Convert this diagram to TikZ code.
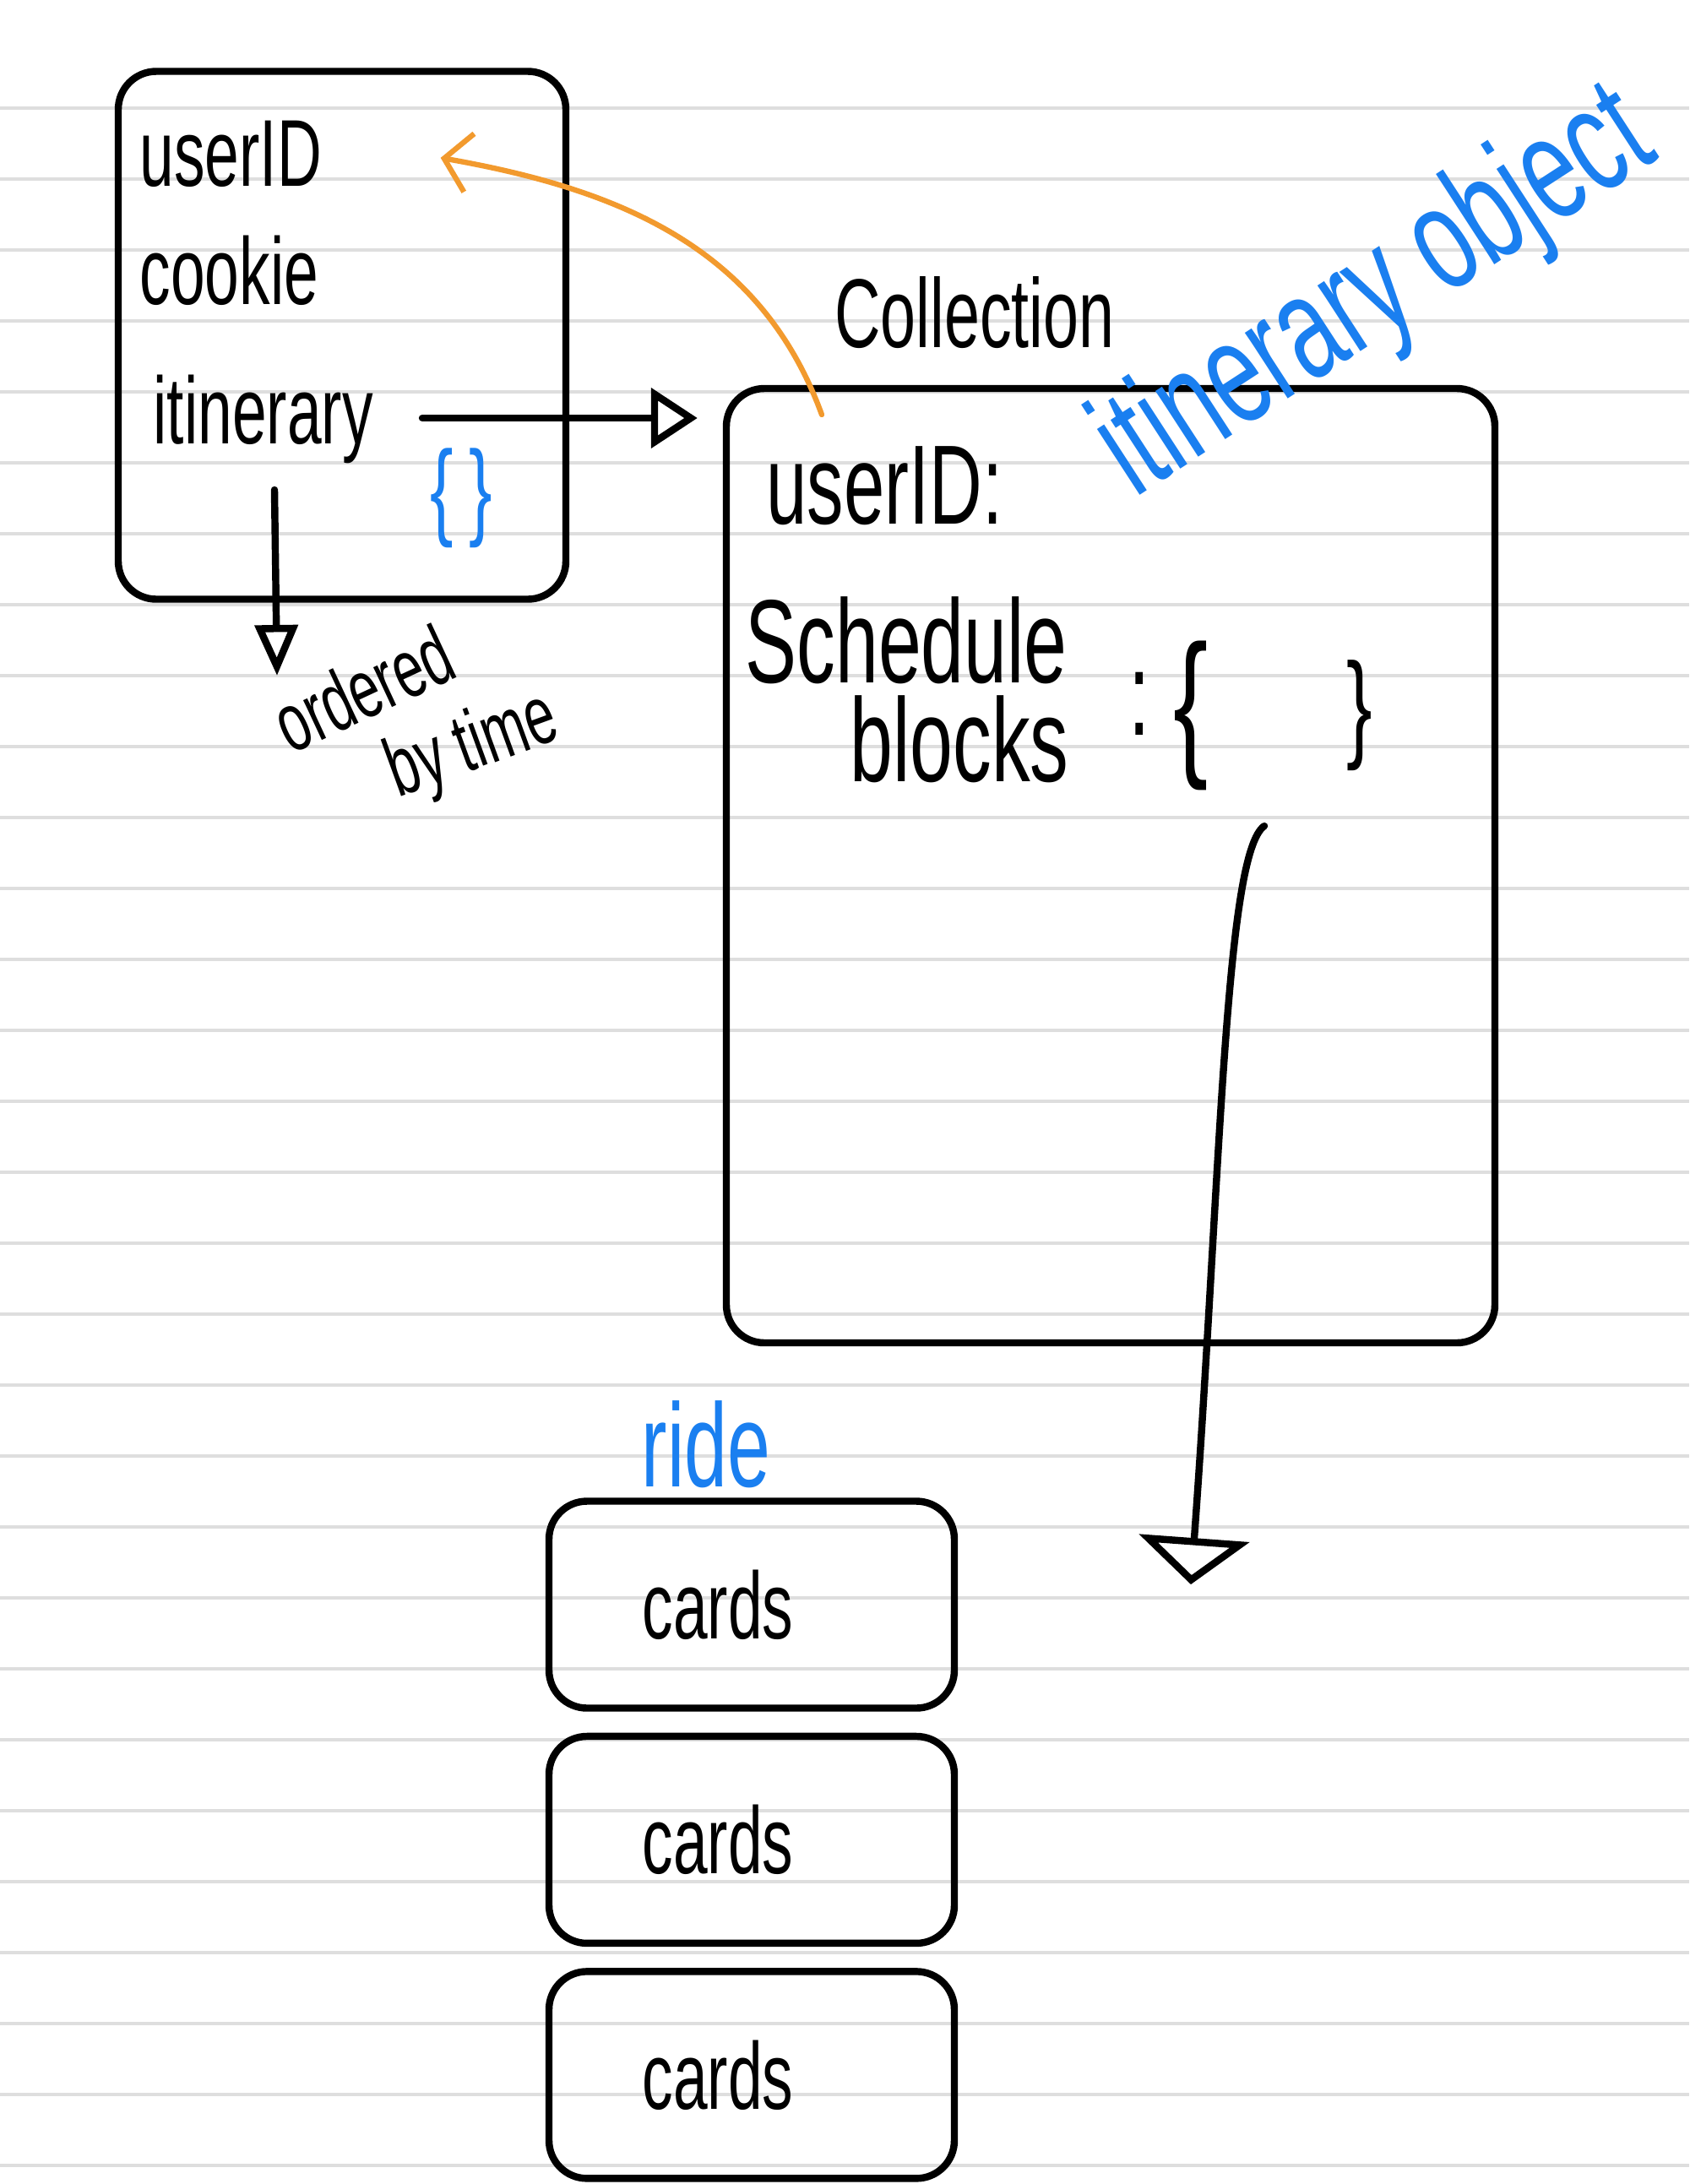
\documentclass[tikz,border=0pt]{standalone}
\usepackage{fontspec}
\newfontfamily\hand[FakeStretch=0.65]{Liberation Sans}
\usetikzlibrary{positioning,arrows.meta}
\definecolor{penblue}{HTML}{1A7FF0}
\definecolor{penorange}{HTML}{F29A2E}
\definecolor{ruling}{HTML}{DEDEDE}

\begin{document}
\begin{tikzpicture}[
		pen/.style={line width=2.4pt,line cap=round,line join=round},
		box/.style={pen,draw,rounded corners=0.45cm},
		hw/.style={font=\hand\fontsize{#1}{#1}\selectfont,inner sep=0pt},
		hw/.default=32,
		blue/.style={text=penblue},
		hollow/.style={-{Triangle[open,length=#1,width=0.7cm,line width=2.4pt]}},
		hollow/.default=0.55cm
	]
		% Linjert ark
		\fill[white] (0,0) rectangle (20,-25.86);
		\useasboundingbox (0,0) rectangle (20,-25.86);
		\foreach \k in {0,...,29}
			\draw[ruling,line width=0.9pt] (0,-1.28-0.84*\k) -- (20,-1.28-0.84*\k);
		% Brukerobjekt
		\node[box,minimum width=5.3cm,minimum height=6.25cm] (userbox) at (4.05,-3.97) {};
		\node[hw,anchor=base west] (uid) at (1.65,-2.2) {userID};
		\node[hw,anchor=base west] (cookie) at (1.65,-3.6) {cookie};
		\node[hw,anchor=base west] (itin) at (1.81,-5.25) {itinerary};
		\node[hw=36,blue] (empty) at (5.46,-5.9) {\{\hspace{0.15em}\}};
		% Collection-boks
		\node[hw=33] (coll) at (11.54,-3.7) {Collection};
		\node[box,minimum width=9.1cm,minimum height=11.3cm] (collbox) at (13.15,-10.25) {};
		\node[hw=38,anchor=base west] (cuid) at (9.07,-6.2) {userID:};
		\node[hw=40,anchor=base west] (sched) at (8.82,-8.08) {Schedule};
		\node[hw=40,anchor=base west] (blocks) at (10.06,-9.25) {blocks};
		\node[hw=40] (colon) at (13.49,-8.33) {:};
		\node[hw=54] (lbr) at (14.1,-8.47) {\{};
		\node[hw=40] (rbr) at (16.1,-8.47) {\}};
		\node[hw=50,blue,rotate=33] (itobj) at (16.3,-3.5) {itinerary object};
		% Piler fra brukerobjektet
		\coordinate (itout) at (5.0,-4.95);
		\draw[pen,hollow,shorten >=3mm] (itout) -- (itout -| collbox.west);
		\coordinate (itdown) at (3.25,-5.8);
		\coordinate (itend) at (3.28,-8.0);
		\draw[pen,-{Triangle[open,length=0.6cm,width=0.5cm,line width=2.4pt]}] (itdown) -- (itend);
		\node[hw=28,rotate=25] (ord) at (4.3,-8.15) {ordered};
		\node[hw=28,rotate=20] (bytime) at (5.6,-8.85) {by time};
		% Oransje pil
		\coordinate (orstart) at (9.73,-4.91);
		\draw[line width=1.8pt,line cap=round,penorange,-{Straight Barb[length=3mm,width=7mm]}]
			(orstart) to[out=110,in=-10] ([xshift=1.4cm,yshift=-0.05cm]uid.east);
		% Kort
		\node[box,minimum width=4.8cm,minimum height=2.45cm] (card1) at (8.9,-19.0) {};
		\node[box,minimum width=4.8cm,minimum height=2.45cm,below=0.25cm of card1] (card2) {};
		\node[box,minimum width=4.8cm,minimum height=2.45cm,below=0.25cm of card2] (card3) {};
		\node[hw] (lbl1) at ([xshift=-0.4cm]card1.center) {cards};
		\node[hw] (lbl2) at ([xshift=-0.4cm]card2.center) {cards};
		\node[hw] (lbl3) at ([xshift=-0.4cm]card3.center) {cards};
		\node[hw=40,blue] (ride) at (8.36,-17.1) {ride};
		% Pil ned mot kortene
		\coordinate (blkout) at (14.97,-9.78);
		\coordinate (blkend) at (14.1,-18.76);
		\draw[pen,-{Triangle[open,length=0.55cm,width=1.3cm,line width=2.4pt]}]
			(blkout) .. controls (14.5,-10.1) and (14.45,-14) .. (blkend);
	\end{tikzpicture}
\end{document}
